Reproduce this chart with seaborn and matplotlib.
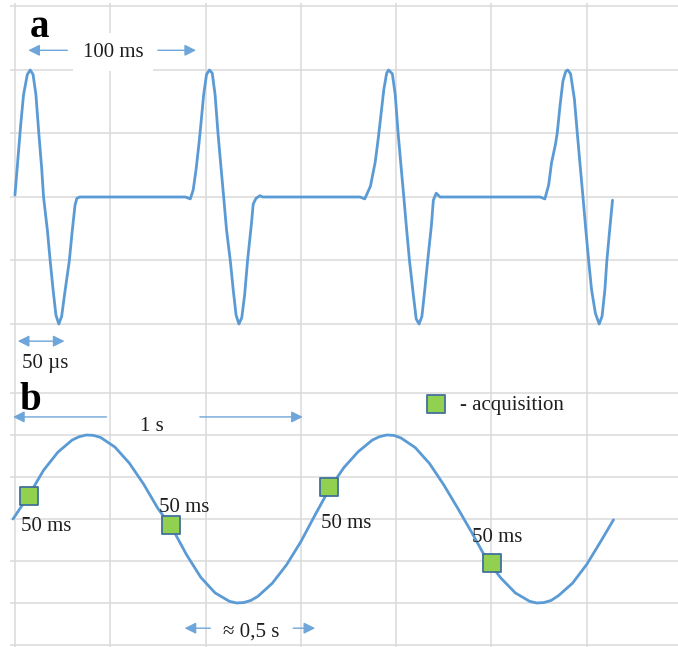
import matplotlib
matplotlib.use("Agg")
import matplotlib.pyplot as plt
import seaborn as sns
import pandas as pd

# values, in grid divisions (x) and divisions (y)

# a) fast pulse train: four pulses, flat between them
pulse_t = [0.00, 0.03, 0.06, 0.09, 0.13, 0.16, 0.19, 0.22, 0.25, 0.28,
           0.30, 0.34, 0.37, 0.40, 0.43, 0.46, 0.49, 0.52, 0.57, 0.60,
           0.63, 0.65, 0.68,
           1.79, 1.84, 1.87, 1.90, 1.93, 1.95, 1.98, 2.01, 2.04, 2.07,
           2.10, 2.13, 2.16, 2.19, 2.22, 2.26, 2.29, 2.32, 2.35, 2.38,
           2.41, 2.44, 2.48, 2.50, 2.53, 2.57, 2.60,
           3.62, 3.67, 3.73, 3.78, 3.81, 3.84, 3.87, 3.90, 3.92, 3.96,
           3.99, 4.02, 4.05, 4.08, 4.11, 4.14, 4.18, 4.21, 4.24, 4.27,
           4.30, 4.33, 4.37, 4.39, 4.42, 4.46,
           5.51, 5.56, 5.60, 5.63, 5.67, 5.69, 5.72, 5.75, 5.78, 5.80,
           5.83, 5.87, 5.90, 5.93, 5.96, 5.99, 6.02, 6.05, 6.09, 6.13,
           6.16, 6.19, 6.21, 6.24, 6.27]
pulse_v = [0.03, 0.58, 1.13, 1.61, 1.93, 2.00, 1.93, 1.61, 1.01, 0.46,
           0.00, -0.52, -1.01, -1.46, -1.86, -2.00, -1.88, -1.54, -1.01, -0.55,
           -0.13, -0.02, 0.00,
           0.00, -0.03, 0.11, 0.43, 0.83, 1.13, 1.61, 1.93, 2.00, 1.95,
           1.61, 1.01, 0.50, 0.00, -0.52, -1.01, -1.46, -1.86, -2.00, -1.90,
           -1.54, -1.01, -0.44, -0.11, -0.02, 0.02, 0.00,
           0.00, -0.03, 0.17, 0.55, 0.90, 1.29, 1.69, 1.95, 2.00, 1.94,
           1.61, 1.01, 0.50, 0.00, -0.52, -1.01, -1.54, -1.92, -2.00, -1.88,
           -1.46, -1.01, -0.44, -0.05, 0.06, 0.00,
           0.00, -0.03, 0.19, 0.54, 0.82, 1.01, 1.45, 1.83, 1.98, 2.00,
           1.94, 1.54, 1.01, 0.50, 0.00, -0.52, -1.01, -1.46, -1.83, -2.00,
           -1.88, -1.46, -1.01, -0.52, -0.05]

# b) slow signal
wave_t = [-0.02, 0.15, 0.30, 0.45, 0.60, 0.675, 0.75, 0.825, 0.90, 1.05,
          1.20, 1.35, 1.50, 1.65, 1.80, 1.95, 2.10, 2.25, 2.325, 2.40,
          2.475, 2.55, 2.70, 2.85, 3.00, 3.15, 3.30, 3.45, 3.60, 3.75,
          3.825, 3.90, 3.975, 4.05, 4.20, 4.35, 4.50, 4.65, 4.80, 4.95,
          5.10, 5.25, 5.40, 5.475, 5.55, 5.625, 5.70, 5.85, 6.00, 6.15,
          6.28]
wave_v = [0.00, 0.58, 1.16, 1.59, 1.88, 1.96, 2.00, 1.99, 1.94, 1.71,
          1.33, 0.83, 0.25, -0.22, -0.85, -1.39, -1.76, -1.96, -2.00, -1.99,
          -1.94, -1.84, -1.53, -1.09, -0.54, 0.10, 0.72, 1.22, 1.60, 1.88,
          1.96, 2.00, 1.99, 1.93, 1.70, 1.32, 0.81, 0.24, -0.35, -0.97,
          -1.41, -1.76, -1.96, -2.00, -1.99, -1.94, -1.83, -1.53, -1.08, -0.52,
          -0.02]

# acquisition instants on the slow signal
acq_t = [0.15, 1.64, 3.30, 5.01]
acq_v = [0.55, -0.15, 0.77, -1.05]
acq_labels = ["50 ms", "50 ms", "50 ms", "50 ms"]
acq_label_offset = [(-5.8, -25.5), (-9.0, 9.4), (-5.8, -30.0), (-14.4, 15.0)]

blue = "#5B9BD5"
arrow_blue = "#6EA6DA"
green = "#92D050"
edge = "#41719C"
ink = "#1f1f1f"

sns.set_theme(style="whitegrid", rc={
    "grid.color": "#dadada",
    "grid.linewidth": 1.1,
    "axes.edgecolor": "white",
})
plt.rcParams["font.family"] = ["Liberation Serif", "DejaVu Serif"]

W, H = 678, 647
fig = plt.figure(figsize=(W / 100, H / 100), dpi=100)
ax_a = fig.add_axes([10 / W, 1 - 384 / H, 668 / W, 381 / H])
ax_b = fig.add_axes([10 / W, 0, 668 / W, 263 / H])

for ax in (ax_a, ax_b):
    ax.set_xticks(range(0, 7))
    ax.set_yticks(range(-3, 4))
    ax.set_xticklabels([])
    ax.set_yticklabels([])
    ax.tick_params(length=0)
    ax.set_xlim(-0.052, 6.957)
    for s in ax.spines.values():
        s.set_visible(False)

ax_a.set_ylim(-2.945, 3.055)
ax_b.set_ylim(-3.048, 3.214)

# --- panel a
df_a = pd.DataFrame({"t": pulse_t, "v": pulse_v})
sns.lineplot(data=df_a, x="t", y="v", ax=ax_a, color=blue, linewidth=2.0,
             sort=False, estimator=None)
ax_a.set_xlabel("")
ax_a.set_ylabel("")

ax_a.text(0.16, 2.52, "a", fontsize=28, fontweight="bold", color="black",
          ha="left", va="baseline")
ax_a.text(1.03, 2.21, "100 ms", fontsize=15, color=ink, ha="center", va="baseline",
          zorder=3, bbox=dict(boxstyle="square,pad=0.45", fc="white", ec="none"))
arr = dict(arrowstyle="-|>", color=arrow_blue, lw=1.0, mutation_scale=17,
           shrinkA=0, shrinkB=0)
ax_a.annotate("", xy=(0.14, 2.31), xytext=(0.55, 2.31), arrowprops=arr, zorder=4)
ax_a.annotate("", xy=(1.90, 2.31), xytext=(1.50, 2.31), arrowprops=arr, zorder=4)
ax_a.annotate("", xy=(0.52, -2.27), xytext=(0.03, -2.27), zorder=4,
              arrowprops=dict(arr, arrowstyle="<|-|>"))
ax_a.text(0.07, -2.69, "50 µs", fontsize=15, color=ink, ha="left", va="baseline")

# --- panel b
df_b = pd.DataFrame({"t": wave_t, "v": wave_v})
sns.lineplot(data=df_b, x="t", y="v", ax=ax_b, color=blue, linewidth=2.0,
             sort=False, estimator=None)
df_acq = pd.DataFrame({"t": acq_t, "v": acq_v})
sns.scatterplot(data=df_acq, x="t", y="v", ax=ax_b, marker="s", s=182,
                color=green, edgecolor=edge, linewidth=1.3, zorder=5,
                label="- acquisition")
ax_b.set_xlabel("")
ax_b.set_ylabel("")

for t, v, lab, off in zip(acq_t, acq_v, acq_labels, acq_label_offset):
    ax_b.annotate(lab, xy=(t, v), xytext=off, textcoords="offset points",
                  fontsize=15, color=ink, ha="left", va="baseline")

ax_b.legend(loc="center left", bbox_to_anchor=(425.6 / W, 1 - 405 / H),
            bbox_transform=fig.transFigure, frameon=False, borderpad=0,
            borderaxespad=0, handlelength=1.0, handletextpad=0.65,
            fontsize=15, labelcolor=ink)

ax_b.text(0.05, 2.60, "b", fontsize=28, fontweight="bold", color="black",
          ha="left", va="baseline")
ax_b.text(1.44, 2.10, "1 s", fontsize=15, color=ink, ha="center", va="baseline")
ax_b.annotate("", xy=(-0.02, 2.43), xytext=(0.96, 2.43), arrowprops=arr, zorder=4)
ax_b.annotate("", xy=(3.02, 2.43), xytext=(1.94, 2.43), arrowprops=arr, zorder=4)
ax_b.text(2.48, -2.79, "≈ 0,5 s", fontsize=15, color=ink, ha="center", va="baseline")
ax_b.annotate("", xy=(1.78, -2.60), xytext=(2.05, -2.60), arrowprops=arr, zorder=4)
ax_b.annotate("", xy=(3.15, -2.60), xytext=(2.92, -2.60), arrowprops=arr, zorder=4)

fig.savefig("out.png", dpi=100, facecolor="white")
